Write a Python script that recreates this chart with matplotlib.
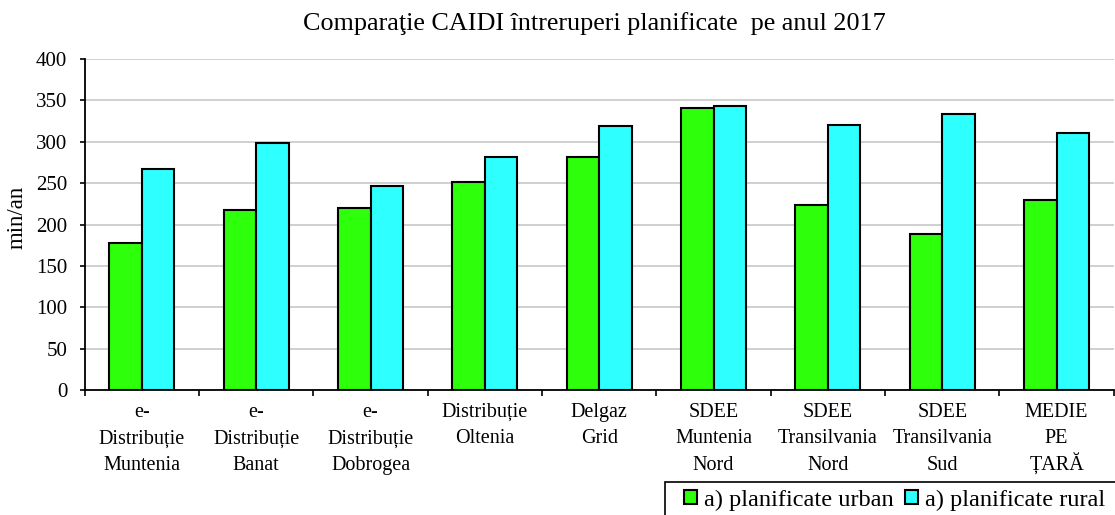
import matplotlib
matplotlib.use("Agg")
import matplotlib.pyplot as plt
from matplotlib.patches import Rectangle
import numpy as np

categories = ["e-\nDistribuție\nMuntenia", "e-\nDistribuție\nBanat", "e-\nDistribuție\nDobrogea",
              "Distribuție\nOltenia", "Delgaz\nGrid", "SDEE\nMuntenia\nNord",
              "SDEE\nTransilvania\nNord", "SDEE\nTransilvania\nSud", "MEDIE\nPE\nȚARĂ"]
urban = [178, 217, 220, 251, 282, 341, 224, 188, 230]
rural = [267, 299, 247, 282, 319, 343, 320, 334, 310]
series_labels = ["a) planificate urban", "a) planificate rural"]
yticks = [0, 50, 100, 150, 200, 250, 300, 350, 400]

plt.rcParams['font.family'] = ['Liberation Serif', 'DejaVu Serif']

fig = plt.figure(figsize=(11.15, 5.15), dpi=100)
ax = fig.add_axes([0.0759, 0.2427, 0.923, 0.6427])

x = np.arange(len(categories))
w = 0.285
ax.bar(x - w/2, urban, w, color='#2eff0a', edgecolor='black', linewidth=1.5, label=series_labels[0], zorder=3)
ax.bar(x + w/2, rural, w, color='#2effff', edgecolor='black', linewidth=1.5, label=series_labels[1], zorder=3)

ax.set_xlim(-0.5, len(categories) - 0.5)
ax.set_ylim(0, 400)
ax.set_yticks(yticks)
ax.tick_params(axis='y', labelsize=15, direction='out', length=3.6, width=1.2, pad=9)
ax.yaxis.grid(True, color='#c8c8c8', linewidth=1.2, zorder=0)
ax.set_axisbelow(True)

# category labels: one text per line with fixed line spacing (baseline offsets in points)
ax.set_xticks(x)
ax.set_xticklabels([''] * len(categories))
ax.tick_params(axis='x', which='major', length=0)
ax.set_xticks(np.arange(-0.5, len(categories) + 0.5, 1), minor=True)
ax.tick_params(axis='x', which='minor', length=4.3, width=1.2, direction='out')
line_step = 19.1
for i, lab in enumerate(categories):
    for j, line in enumerate(lab.split('\n')):
        ax.annotate(line, xy=(x[i], 0), xycoords=('data', 'axes fraction'),
                    xytext=(0, -19.4 - j * line_step), textcoords='offset points',
                    ha='center', va='baseline', fontsize=14.5, annotation_clip=False)

for s in ['top', 'right']:
    ax.spines[s].set_visible(False)
for s in ['left', 'bottom']:
    ax.spines[s].set_linewidth(1.3)

ax.set_ylabel("min/an", fontsize=16.5)
ax.yaxis.set_label_coords(-0.055, 0.523)
fig.text(0.533, 0.955, "Comparaţie CAIDI întreruperi planificate  pe anul 2017", fontsize=18.8,
         ha='center', va='center')

# legend frame (extends past the figure edge like the reference)
fig.patches.append(Rectangle((665 / 1115, -0.1), 0.5, 0.1 + (1 - 482 / 515), transform=fig.transFigure,
                             facecolor='white', edgecolor='black', linewidth=1.2, zorder=1))
leg = fig.legend(loc='center left', bbox_to_anchor=(684 / 1115, 1 - 500 / 515), ncol=2, fontsize=17.6,
                 frameon=False, handlelength=0.53, handleheight=0.53, handletextpad=0.3,
                 columnspacing=0.45, borderpad=0, borderaxespad=0)

fig.savefig("out.png", dpi=100)
